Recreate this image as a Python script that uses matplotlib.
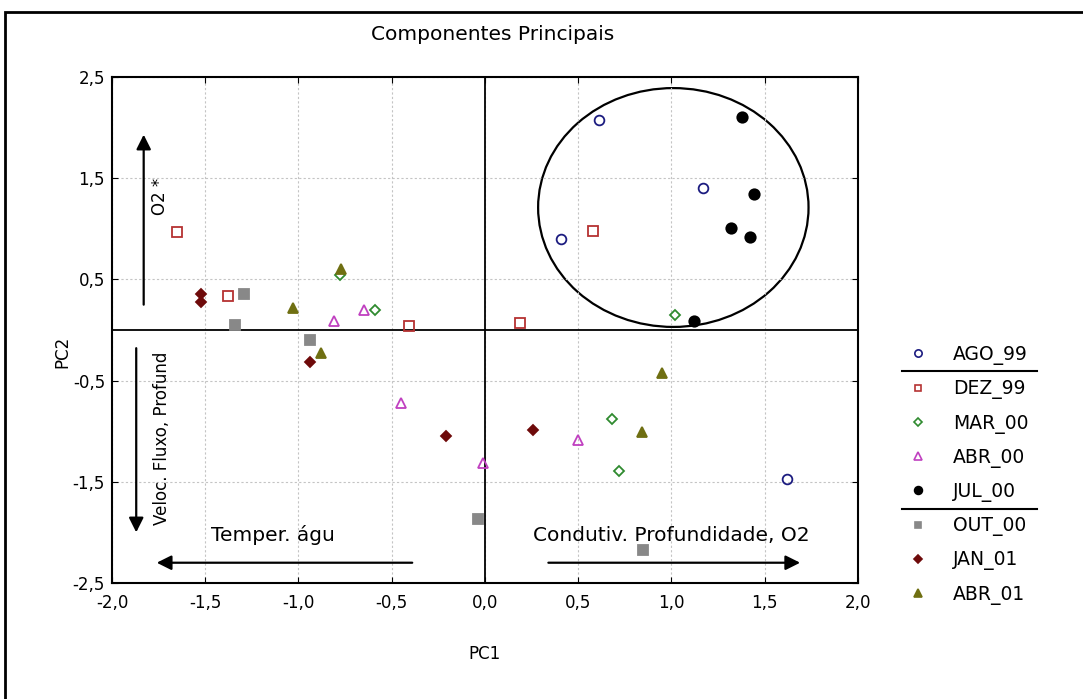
import matplotlib
matplotlib.use('Agg')
import matplotlib.pyplot as plt
from matplotlib.patches import Ellipse, Rectangle
from matplotlib.lines import Line2D
from matplotlib.ticker import FuncFormatter

plt.rcParams['font.family'] = ['DejaVu Sans']

# scores PC1 / PC2 por campanha
ago_99_x = [0.61, 1.17, 0.41, 1.62]
ago_99_y = [2.07, 1.40, 0.90, -1.47]
dez_99_x = [-1.65, -1.38, -0.41, 0.19, 0.58]
dez_99_y = [0.97, 0.34, 0.04, 0.07, 0.98]
mar_00_x = [-0.78, -0.59, 1.02, 0.68, 0.72]
mar_00_y = [0.54, 0.20, 0.15, -0.88, -1.39]
abr_00_x = [-0.81, -0.65, -0.45, -0.01, 0.50]
abr_00_y = [0.09, 0.20, -0.72, -1.31, -1.09]
jul_00_x = [1.38, 1.44, 1.32, 1.42, 1.12]
jul_00_y = [2.10, 1.34, 1.01, 0.92, 0.09]
out_00_x = [-1.29, -1.34, -0.94, -0.04, 0.85]
out_00_y = [0.36, 0.05, -0.10, -1.87, -2.17]
jan_01_x = [-1.52, -1.52, -0.94, -0.21, 0.26]
jan_01_y = [0.36, 0.28, -0.32, -1.05, -0.99]
abr_01_x = [-0.77, -1.03, -0.88, 0.95, 0.84]
abr_01_y = [0.60, 0.22, -0.23, -0.43, -1.01]

series = [
    ("AGO_99", ago_99_x, ago_99_y, 'o', 'none', '#1c1c80', 7),
    ("DEZ_99", dez_99_x, dez_99_y, 's', 'none', '#b53232', 6.5),
    ("MAR_00", mar_00_x, mar_00_y, 'D', 'none', '#2f8a2f', 5.5),
    ("ABR_00", abr_00_x, abr_00_y, '^', 'none', '#c040c0', 7),
    ("JUL_00", jul_00_x, jul_00_y, 'o', '#000000', '#000000', 7.5),
    ("OUT_00", out_00_x, out_00_y, 's', '#888888', '#888888', 6.5),
    ("JAN_01", jan_01_x, jan_01_y, 'D', '#6e0a0a', '#6e0a0a', 5.5),
    ("ABR_01", abr_01_x, abr_01_y, '^', '#6f6f12', '#6f6f12', 7),
]

fig = plt.figure(figsize=(10.83, 6.99), dpi=100)
ax = fig.add_axes([0.1034, 0.1660, 0.6888, 0.7239])

ax.set_xlim(-2.0, 2.0)
ax.set_ylim(-2.5, 2.5)
ax.set_xticks([-2.0, -1.5, -1.0, -0.5, 0.0, 0.5, 1.0, 1.5, 2.0])
ax.set_yticks([-2.5, -1.5, -0.5, 0.5, 1.5, 2.5])
fmt = FuncFormatter(lambda v, p: f"{v:.1f}".replace('.', ','))
ax.xaxis.set_major_formatter(fmt)
ax.yaxis.set_major_formatter(fmt)
ax.tick_params(direction='in', length=4, top=True, right=True, labelsize=12, pad=5)
ax.tick_params(axis='x', pad=8)
ax.grid(True, linestyle=(0, (2, 2)), color='#c4c4c4', lw=0.8)
for s in ax.spines.values():
    s.set_linewidth(1.5)

ax.axhline(0, color='black', lw=1.3)
ax.axvline(0, color='black', lw=1.3)

for name, xs, ys, m, fc, ec, ms in series:
    ax.plot(xs, ys, ls='none', marker=m, mfc=fc, mec=ec, ms=ms, mew=1.3, zorder=3)

ax.add_patch(Ellipse((1.01, 1.21), 1.45, 2.36, fill=False, lw=1.6, color='black'))

# setas dos fatores
arrows = [((-1.83, 1.93), (-1.83, 0.25)),
          ((-1.87, -2.0), (-1.87, -0.18)),
          ((-1.76, -2.30), (-0.39, -2.30)),
          ((1.69, -2.30), (0.34, -2.30))]
for tip, tail in arrows:
    ax.annotate('', xy=tip, xytext=tail,
                arrowprops=dict(arrowstyle='-|>', lw=1.6, color='black',
                                mutation_scale=22, shrinkA=0, shrinkB=0))

ax.text(-1.74, 1.32, "O2 *", rotation=90, ha='center', va='center', fontsize=12)
ax.text(-1.73, -1.07, "Veloc. Fluxo, Profund", rotation=90, ha='center', va='center', fontsize=12)
ax.text(-1.47, -2.03, "Temper. águ", ha='left', va='center', fontsize=14.5)
ax.text(0.26, -2.03, "Condutiv. Profundidade, O2", ha='left', va='center', fontsize=14.5)

ax.set_xlabel("PC1", fontsize=12)
ax.set_ylabel("PC2", fontsize=12)
ax.xaxis.set_label_coords(0.5, -0.122)
ax.yaxis.set_label_coords(-0.054, 0.457)

fig.text(493 / 1083, 1 - 35 / 699, "Componentes Principais", ha='center', va='center', fontsize=14.5)

# legenda
handles = [Line2D([], [], ls='none', marker=m, mfc=fc, mec=ec, ms=ms * 0.75, mew=1.2)
           for name, xs, ys, m, fc, ec, ms in series]
labels = [s[0] for s in series]
fs = 13.5
fs_px = fs * 100 / 72
ax.legend(handles, labels, loc='upper left', frameon=False, fontsize=fs,
          bbox_to_anchor=((918 - fs_px / 2) / 1083, 1 - 345 / 699),
          bbox_transform=fig.transFigure, borderpad=0, borderaxespad=0,
          handlelength=1.0, handletextpad=1.37, labelspacing=0.76)
for yy in (371, 509):
    fig.add_artist(Line2D([902 / 1083, 1037 / 1083], [1 - yy / 699, 1 - yy / 699],
                          transform=fig.transFigure, color='black', lw=1.5))

# moldura externa
fig.add_artist(Rectangle((5 / 1083, -0.05), 1.2, 1 - 12 / 699 + 0.05, fill=False,
                         lw=2, color='black', transform=fig.transFigure))

fig.savefig("out.png", dpi=100)
